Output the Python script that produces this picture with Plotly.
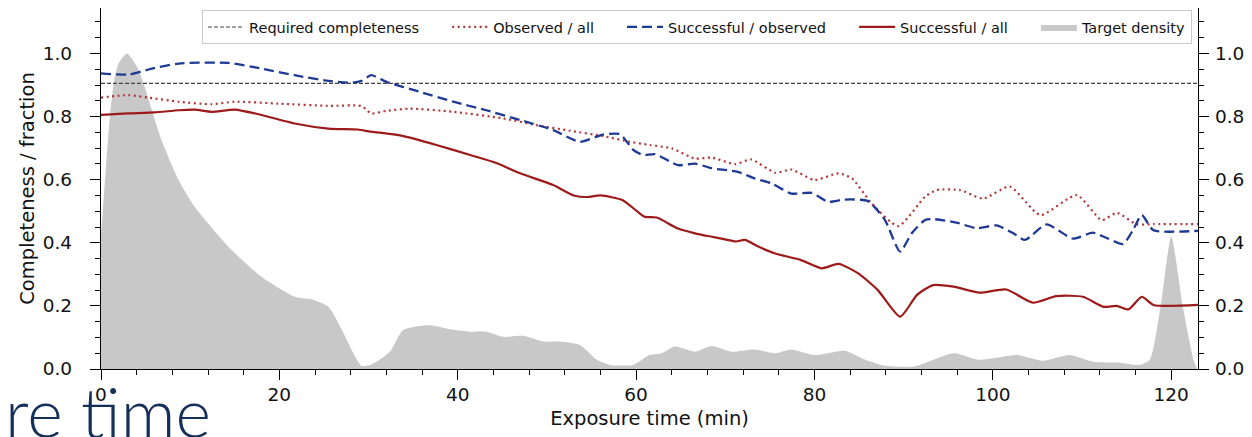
import plotly.graph_objects as go

# ---------------- data ----------------
REQUIRED = 0.905
X_MAX = 123

succ_all_x = [0, 3, 6, 8.7, 10.5, 12.4, 15, 18, 21.7, 25.5, 28.8, 30.2, 31.5, 33.9, 37.6,
              41.4, 44.4, 47, 50.7, 53, 54.5, 56, 58.5, 60.1, 61, 62.3, 64.7, 66.6, 68.5,
              70.1, 71.2, 72.2, 73.7, 75.6, 78.5, 80.8, 82.7, 84.9, 87.1, 89.6, 91.5, 93.3,
              95.6, 98.5, 101.5, 104.5, 107.1, 110.1, 112.4, 113.9, 115.2, 116.7, 118, 123]
succ_all_y = [0.805, 0.81, 0.813, 0.82, 0.822, 0.815, 0.822, 0.805, 0.778, 0.762, 0.759, 0.752,
              0.748, 0.738, 0.71, 0.678, 0.652, 0.62, 0.583, 0.55, 0.545, 0.55, 0.535, 0.5,
              0.482, 0.48, 0.445, 0.43, 0.419, 0.41, 0.404, 0.409, 0.388, 0.366, 0.345, 0.319,
              0.333, 0.303, 0.25, 0.166, 0.235, 0.266, 0.261, 0.242, 0.252, 0.21, 0.231, 0.229,
              0.197, 0.2, 0.189, 0.229, 0.203, 0.203]

succ_obs_x = [0, 3.1, 5.7, 8.7, 14.3, 18, 21.7, 25.5, 28.1, 29.2, 30.3, 32, 35.8, 39.5, 43.2,
              47, 50.7, 53.7, 56.3, 58.2, 59.7, 60.8, 62.1, 64.7, 66.6, 68.5, 71.4, 73.3, 75.2,
              77.4, 79.7, 81.5, 83.4, 86, 87.9, 89.6, 90.9, 92.4, 93.3, 95.9, 98.2, 100.4,
              102.3, 103.6, 106, 109, 111.2, 112.7, 114.6, 115.7, 116.7, 118, 123]
succ_obs_y = [0.937, 0.933, 0.952, 0.968, 0.97, 0.952, 0.931, 0.913, 0.907, 0.913, 0.931, 0.91,
              0.878, 0.847, 0.82, 0.789, 0.757, 0.72, 0.743, 0.744, 0.694, 0.678, 0.681, 0.646,
              0.651, 0.636, 0.625, 0.604, 0.588, 0.556, 0.558, 0.53, 0.537, 0.532, 0.472, 0.372,
              0.43, 0.472, 0.475, 0.464, 0.446, 0.455, 0.43, 0.409, 0.458, 0.413, 0.432, 0.416,
              0.396, 0.44, 0.488, 0.44, 0.438]

obs_all_x = [0, 3.1, 5.3, 8.7, 12.4, 15, 19.9, 25.5, 29.2, 30.3, 32, 34.6, 39.5, 45.1, 48.8,
             52.6, 56.3, 59.3, 61.5, 64, 66.6, 68.5, 71.1, 72.9, 75.6, 77.4, 80, 82.7, 84.2,
             86.4, 89.4, 92.4, 93.7, 96.3, 98.9, 101.9, 105.3, 109.4, 112.2, 113.9, 116.1, 118, 123]
obs_all_y = [0.86, 0.868, 0.86, 0.847, 0.839, 0.847, 0.841, 0.834, 0.833, 0.81, 0.818, 0.825,
             0.815, 0.794, 0.773, 0.755, 0.738, 0.72, 0.71, 0.699, 0.667, 0.67, 0.649, 0.664,
             0.622, 0.632, 0.599, 0.62, 0.604, 0.525, 0.453, 0.546, 0.567, 0.567, 0.54, 0.578,
             0.488, 0.551, 0.472, 0.495, 0.459, 0.459, 0.459]

dens_x = [0, 0.5, 1, 1.5, 2, 2.9, 4, 4.9, 6.8, 8.7, 10.5, 14.3, 18, 21.7, 23.6, 25.5, 27,
          28.5, 29.2, 30.2, 32.4, 33.9, 36.9, 39.5, 41.4, 43.2, 45.1, 47.3, 49.6, 51.5, 53.7,
          55.6, 57.1, 59.7, 61.5, 62.9, 64.3, 66.6, 68.5, 70.7, 73.3, 75.6, 77.4, 80, 83.4,
          85.7, 87.9, 90.9, 91.8, 95.6, 98.5, 102.7, 105.6, 108.6, 111.2, 114.2, 116.5,
          117.6, 118.8, 120, 121.3, 122.5, 122.9]
dens_y = [0.42, 0.62, 0.8, 0.92, 0.97, 1.0, 0.96, 0.894, 0.725, 0.599, 0.514, 0.387, 0.292,
          0.229, 0.221, 0.197, 0.124, 0.039, 0.01, 0.013, 0.055, 0.124, 0.139, 0.124, 0.118,
          0.118, 0.102, 0.105, 0.087, 0.087, 0.076, 0.029, 0.013, 0.013, 0.044, 0.05, 0.071,
          0.055, 0.073, 0.055, 0.062, 0.05, 0.062, 0.044, 0.058, 0.029, 0.01, 0.007, 0.013,
          0.05, 0.029, 0.044, 0.026, 0.044, 0.023, 0.02, 0.013, 0.029, 0.197, 0.42, 0.197,
          0.029, 0.0]

x_ticks = [0, 20, 40, 60, 80, 100, 120]
y_ticks = [0.0, 0.2, 0.4, 0.6, 0.8, 1.0]
Y_MAX = 1.144

# ---------------- figure ----------------
# The page body keeps its default 8px margin, so the figure is sized to fill the
# remaining window area.
FONT = "DejaVu Sans"
W, H = 1244, 429
ML, MR, MT, MB = 93, 54, 0, 68
PW, PH = W - ML - MR, H - MT - MB
PAD = "\u00a0" * 5

fig = go.Figure()

fig.add_trace(go.Scatter(
    x=dens_x, y=dens_y, mode="lines", fill="tozeroy", name="Target density",
    line=dict(width=0, shape="spline", smoothing=0.6, color="#c8c8c8"),
    fillcolor="#c8c8c8", legendrank=5))

fig.add_trace(go.Scatter(
    x=[0, X_MAX], y=[REQUIRED, REQUIRED], mode="lines", name="Required completeness" + PAD,
    line=dict(color="#444444", width=1.1, dash="4px,2px"), legendrank=1))

fig.add_trace(go.Scatter(
    x=obs_all_x, y=obs_all_y, mode="lines", name="Observed / all" + PAD,
    line=dict(color="#b03838", width=2.2, dash="2px,3.5px", shape="spline", smoothing=0.6),
    legendrank=2))

fig.add_trace(go.Scatter(
    x=succ_obs_x, y=succ_obs_y, mode="lines", name="Successful / observed" + PAD,
    line=dict(color="#1f3a93", width=2.3, dash="10px,5px", shape="spline", smoothing=0.6),
    legendrank=3))

fig.add_trace(go.Scatter(
    x=succ_all_x, y=succ_all_y, mode="lines", name="Successful / all" + PAD,
    line=dict(color="#9c1a1a", width=2.2, shape="spline", smoothing=0.6),
    legendrank=4))

# invisible trace to activate the right-hand axis
fig.add_trace(go.Scatter(x=[0], y=[0], yaxis="y2", mode="markers",
                         marker=dict(opacity=0), showlegend=False, hoverinfo="skip"))

axis_common = dict(showline=True, linecolor="black", linewidth=1.4, ticks="outside",
                   ticklen=10, tickwidth=1.3, tickcolor="black", showgrid=False,
                   zeroline=False, tickfont=dict(family=FONT, size=18.5, color="#111"))
minor_y = dict(dtick=0.05, tick0=0, ticks="outside", ticklen=5, tickwidth=1,
               tickcolor="black")

fig.update_layout(
    width=W, height=H,
    margin=dict(l=ML, r=MR, t=MT, b=MB),
    paper_bgcolor="white", plot_bgcolor="white",
    font=dict(family=FONT, color="#111"),
    xaxis=dict(range=[0, X_MAX], tickvals=x_ticks, mirror=True, ticklabelstandoff=-1,
               title=dict(text="Exposure time (min)", font=dict(family=FONT, size=19.5),
                          standoff=6),
               minor=dict(dtick=4, tick0=0, ticks="outside", ticklen=5, tickwidth=1,
                          tickcolor="black"),
               **axis_common),
    yaxis=dict(range=[0, Y_MAX], tickvals=y_ticks, tickformat=".1f", mirror=True,
               ticklabelstandoff=14, ticksuffix="\u00a0\u2009",
               title=dict(text="Completeness / fraction", font=dict(family=FONT, size=19.5),
                          standoff=2),
               minor=minor_y, **axis_common),
    yaxis2=dict(range=[0, Y_MAX], tickvals=y_ticks, tickformat=".1f", overlaying="y",
                side="right", ticklabelstandoff=2, minor=minor_y, **axis_common),
    legend=dict(orientation="h", x=0.0921, y=(PH - 2) / PH, xanchor="left", yanchor="top",
                bgcolor="rgba(255,255,255,0.85)", bordercolor="#cccccc", borderwidth=1,
                font=dict(family=FONT, size=14.5, color="#111"), itemwidth=36,
                traceorder="normal"),
    showlegend=True,
)

fig.add_annotation(text="re time", xref="paper", yref="paper",
                   x=-(ML + 5) / PW, y=(PH - 361) / PH,
                   xanchor="left", yanchor="top", showarrow=False,
                   font=dict(family="Lato", size=68, color="#14305a", weight=300))

fig.write_html("out.html")
